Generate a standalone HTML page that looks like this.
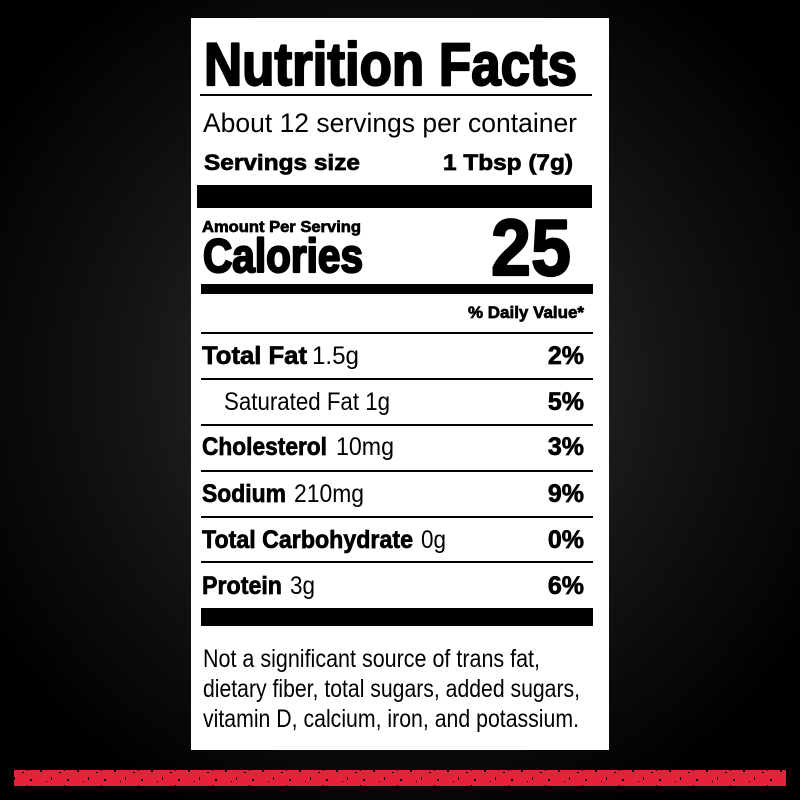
<!DOCTYPE html>
<html><head><meta charset="utf-8"><style>
html,body{margin:0;padding:0;background:#000}
svg{display:block}
text{font-family:"Liberation Sans",sans-serif;fill:#000}
.b{font-weight:bold;stroke:#000;stroke-width:0.7}
.h{font-weight:bold;stroke:#000;stroke-width:2.2;stroke-linejoin:round}
</style></head><body>
<svg width="800" height="800" viewBox="0 0 800 800" xmlns="http://www.w3.org/2000/svg">
<defs>
<radialGradient id="bg" cx="400" cy="380" r="480" gradientUnits="userSpaceOnUse">
<stop offset="0" stop-color="#383838"/>
<stop offset="0.55" stop-color="#151515"/>
<stop offset="1" stop-color="#000"/>
</radialGradient>
<pattern id="grit" width="37" height="16" patternUnits="userSpaceOnUse">
<rect x="3" y="2" width="2" height="2" fill="#000"/><rect x="14" y="9" width="1" height="3" fill="#000"/>
<rect x="22" y="4" width="2" height="1" fill="#000"/><rect x="30" y="11" width="2" height="2" fill="#000"/>
<rect x="9" y="13" width="1" height="1" fill="#000"/><rect x="27" y="1" width="1" height="2" fill="#000"/>
</pattern>
</defs>
<rect width="800" height="800" fill="url(#bg)"/>
<rect x="191" y="18" width="418" height="732" fill="#fff"/>
<rect x="14" y="770" width="772" height="16" fill="#e8213a"/>
<rect x="14" y="770" width="772" height="16" fill="url(#grit)"/>

<text x="204" y="85" class="h" font-size="60" textLength="373" lengthAdjust="spacingAndGlyphs">Nutrition Facts</text>
<rect x="200" y="94" width="392" height="2"/>
<text x="203" y="132" font-size="27" textLength="374" lengthAdjust="spacingAndGlyphs">About 12 servings per container</text>
<text x="204" y="170" class="b" font-size="22" textLength="156" lengthAdjust="spacingAndGlyphs">Servings size</text>
<text x="443" y="170" class="b" font-size="22" textLength="130" lengthAdjust="spacingAndGlyphs">1 Tbsp (7g)</text>
<rect x="197" y="185" width="395" height="23"/>
<text x="202" y="232" class="b" font-size="16" textLength="159" lengthAdjust="spacingAndGlyphs">Amount Per Serving</text>
<text x="203" y="272" class="h" font-size="47" stroke-width="1.6" textLength="160" lengthAdjust="spacingAndGlyphs">Calories</text>
<text x="491" y="275" class="h" font-size="80" textLength="80" lengthAdjust="spacingAndGlyphs">25</text>
<rect x="201" y="284" width="392" height="10"/>
<text x="468" y="318" class="b" font-size="17" textLength="116" lengthAdjust="spacingAndGlyphs">% Daily Value*</text>

<g fill="#000">
<rect x="201" y="332" width="392" height="2"/>
<rect x="201" y="378" width="392" height="2"/>
<rect x="201" y="424" width="392" height="2"/>
<rect x="201" y="470" width="392" height="2"/>
<rect x="201" y="516" width="392" height="2"/>
<rect x="201" y="561" width="392" height="2"/>
<rect x="201" y="608" width="392" height="18"/>
</g>

<text x="202" y="364" class="b" font-size="25" textLength="105" lengthAdjust="spacingAndGlyphs">Total Fat</text>
<text x="312" y="364" font-size="25" textLength="47" lengthAdjust="spacingAndGlyphs">1.5g</text>
<text x="224" y="410" font-size="25" textLength="166" lengthAdjust="spacingAndGlyphs">Saturated Fat 1g</text>
<text x="202" y="455" class="b" font-size="25" textLength="125" lengthAdjust="spacingAndGlyphs">Cholesterol</text>
<text x="336" y="455" font-size="25" textLength="58" lengthAdjust="spacingAndGlyphs">10mg</text>
<text x="202" y="502" class="b" font-size="25" textLength="84" lengthAdjust="spacingAndGlyphs">Sodium</text>
<text x="294" y="502" font-size="25" textLength="70" lengthAdjust="spacingAndGlyphs">210mg</text>
<text x="202" y="548" class="b" font-size="25" textLength="211" lengthAdjust="spacingAndGlyphs">Total Carbohydrate</text>
<text x="421" y="548" font-size="25" textLength="25" lengthAdjust="spacingAndGlyphs">0g</text>
<text x="202" y="594" class="b" font-size="25" textLength="80" lengthAdjust="spacingAndGlyphs">Protein</text>
<text x="290" y="594" font-size="25" textLength="25" lengthAdjust="spacingAndGlyphs">3g</text>

<g font-size="25" text-anchor="end">
<text x="584" y="364" class="b">2%</text>
<text x="584" y="410" class="b">5%</text>
<text x="584" y="455" class="b">3%</text>
<text x="584" y="502" class="b">9%</text>
<text x="584" y="548" class="b">0%</text>
<text x="584" y="594" class="b">6%</text>
</g>

<text x="203" y="667" font-size="25" textLength="337" lengthAdjust="spacingAndGlyphs">Not a significant source of trans fat,</text>
<text x="203" y="697" font-size="25" textLength="377" lengthAdjust="spacingAndGlyphs">dietary fiber, total sugars, added sugars,</text>
<text x="203" y="727" font-size="25" textLength="376" lengthAdjust="spacingAndGlyphs">vitamin D, calcium, iron, and potassium.</text>
</svg>
</body></html>
